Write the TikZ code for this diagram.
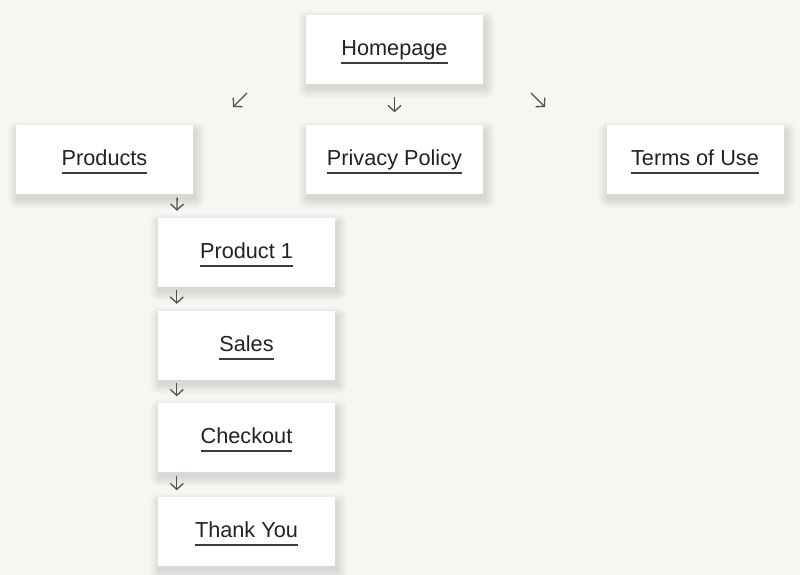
\documentclass[tikz,border=0pt]{standalone}
\usepackage{fontspec}
\setmainfont{Liberation Sans}
\usepackage{tikz}
\usetikzlibrary{arrows.meta}
\usetikzlibrary{backgrounds}

\definecolor{pagebg}{RGB}{247,246,242}
\definecolor{inkgray}{RGB}{34,34,34}
\definecolor{linegray}{RGB}{60,60,60}
\definecolor{arrowgray}{RGB}{80,80,80}

\newcommand{\pagelink}[1]{\setbox0\hbox{#1}\hbox{\rlap{\color{linegray}\vrule height -6.3pt depth 8.5pt width \wd0}\box0}}

\begin{document}
\begin{tikzpicture}[x=1pt,y=1pt]
	\useasboundingbox (0,0) rectangle (800,575);

	\begin{scope}[every node/.style={rectangle, fill=white, minimum width=177pt, minimum height=69pt, inner sep=0pt,
	              text=inkgray, font=\fontsize{21.7}{26}\selectfont, text height=18pt, text depth=6pt}]
		\node (1) at (394.5,525.5) {\pagelink{Homepage}};
		\node (2) at (104.5,415) {\pagelink{Products}};
		\node (3) at (394.5,415) {\pagelink{Privacy Policy}};
		\node (4) at (695,415) {\pagelink{Terms of Use}};
		\node (5) at (246.5,322.5) {\pagelink{Product 1}};
		\node (6) at (246.5,229.5) {\pagelink{Sales}};
		\node (7) at (246.5,137) {\pagelink{Checkout}};
		\node (8) at (246.5,43) {\pagelink{Thank You}};
	\end{scope}

	% soft shadows under the boxes
	\begin{scope}[on background layer]
		\fill[pagebg] (0,0) rectangle (800,575);
		\foreach \n in {1,...,8}
			\foreach \s in {1,...,10}
				\fill[black, opacity=0.013, rounded corners=\s pt]
					([xshift=-\s pt+2pt, yshift=-\s pt-4pt]\n.south west) rectangle ([xshift=\s pt+2pt, yshift=\s pt-6pt]\n.north east);
	\end{scope}

	\coordinate (a) at (247,482);
	\coordinate (b) at (233,468);
	\coordinate (c) at (531,482);
	\coordinate (d) at (545,468);

	\begin{scope}[>={Straight Barb[length=6pt,width=13pt]},
	              every edge/.style={draw=arrowgray, line width=1.3pt, ->}]
		\path (a) edge (b);
		\path (c) edge (d);
		\path (1) edge[shorten <=13pt, shorten >=13pt] (3);
		\path ([xshift=-16pt]2.south east) edge[shorten <=3pt, shorten >=7pt] ([xshift=19pt]5.north west);
		\path ([xshift=19pt]5.south west) edge[shorten <=3pt, shorten >=7pt] ([xshift=19pt]6.north west);
		\path ([xshift=19pt]6.south west) edge[shorten <=3pt, shorten >=7pt] ([xshift=19pt]7.north west);
		\path ([xshift=19pt]7.south west) edge[shorten <=3pt, shorten >=7pt] ([xshift=19pt]8.north west);
	\end{scope}
\end{tikzpicture}
\end{document}
